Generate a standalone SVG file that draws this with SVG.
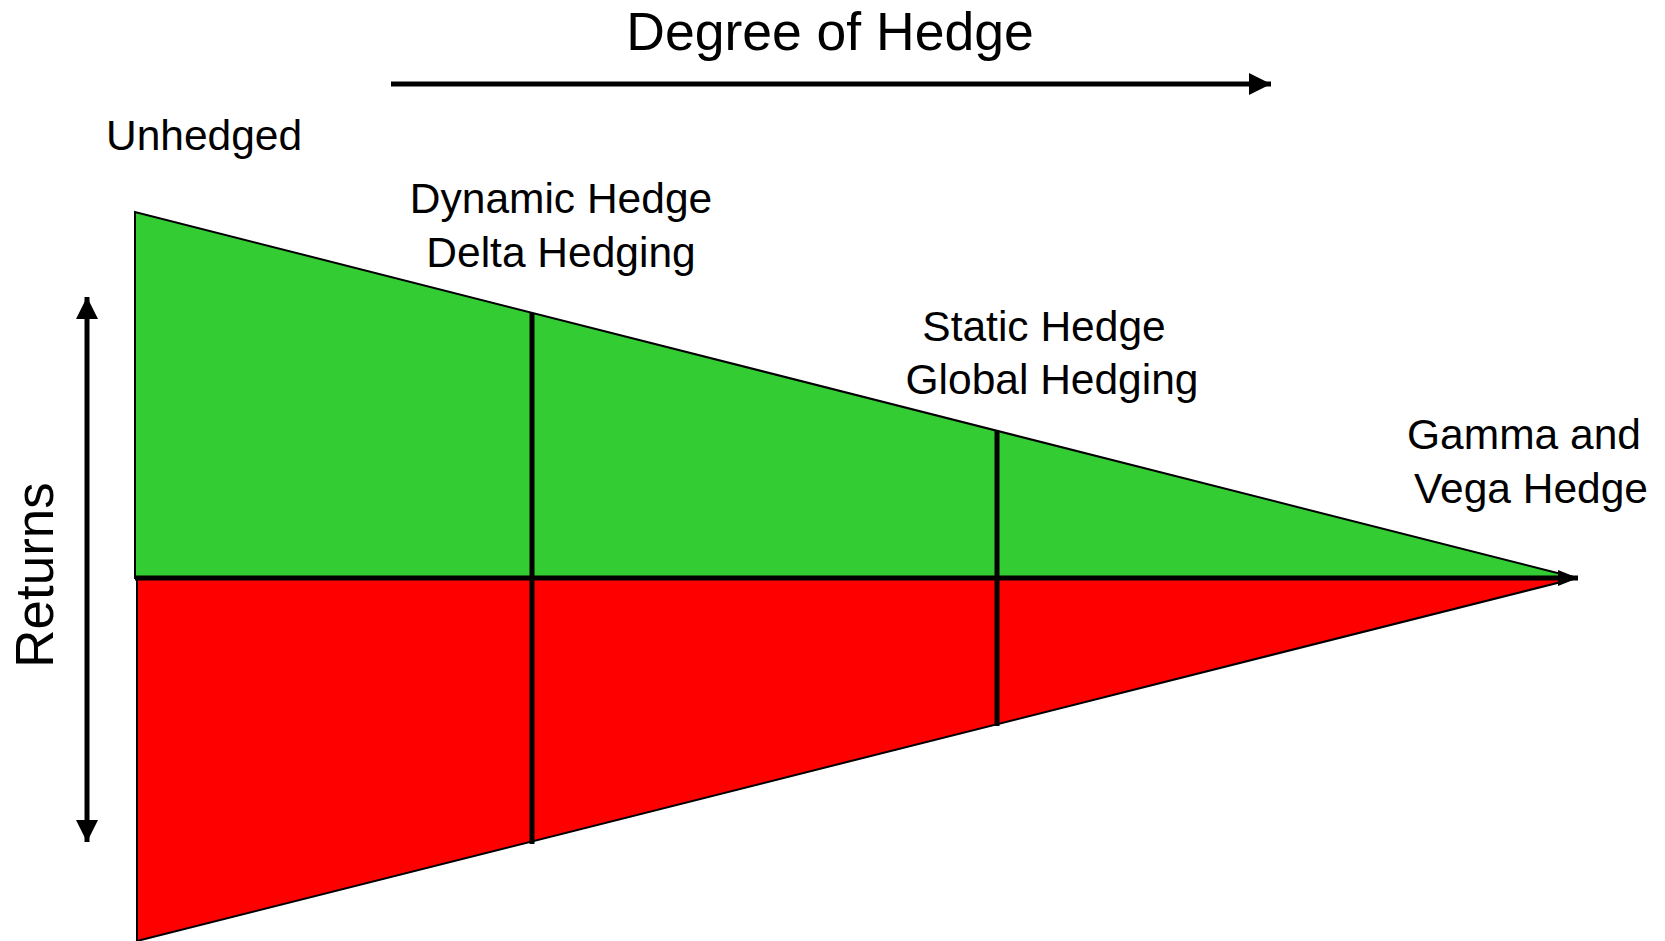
<svg xmlns="http://www.w3.org/2000/svg" width="1665" height="941" viewBox="0 0 1665 941">
<style>
.lbl{font-family:"Liberation Sans",Arial,sans-serif;fill:#000}
.ln{stroke:#000;stroke-width:5;fill:none}
.tri{stroke:#000;stroke-width:2}
</style>
<defs>
<marker id="ah" markerUnits="userSpaceOnUse" markerWidth="22" markerHeight="22" viewBox="0 0 20 20" refX="20" refY="10" orient="auto-start-reverse">
<polygon points="0,0 20,10 0,20" fill="#000"/>
</marker>
<marker id="ah2" markerUnits="userSpaceOnUse" markerWidth="20" markerHeight="18" viewBox="0 0 20 18" refX="20" refY="9" orient="auto">
<polygon points="0,1 20,9 0,17" fill="#000"/>
</marker>
</defs>
<rect width="1665" height="941" fill="#fff"/>
<g id="wedge">
<polygon id="green" class="tri" points="135,212 135,578 1577,578" fill="#33CC33"/>
<polygon id="red" class="tri" points="137,578 137,941 1577,578" fill="#FF0000"/>
</g>
<g id="connectors">
<line class="ln" x1="135" y1="578" x2="1578" y2="578" marker-end="url(#ah2)"/>
<line class="ln" x1="532" y1="313" x2="532" y2="844"/>
<line class="ln" x1="997" y1="431" x2="997" y2="726"/>
<line class="ln" x1="391" y1="84" x2="1271" y2="84" marker-end="url(#ah)"/>
<line class="ln" x1="87" y1="297" x2="87" y2="842" marker-start="url(#ah)" marker-end="url(#ah)"/>
</g>
<g id="title"><text class="lbl" x="830" y="50" font-size="53.5" text-anchor="middle">Degree of Hedge</text></g>
<g id="unhedged"><text class="lbl" x="106" y="150" font-size="42.5">Unhedged</text></g>
<g id="dynamic"><text class="lbl" x="561" y="213" font-size="42.5" text-anchor="middle">Dynamic Hedge</text><text class="lbl" x="561" y="267" font-size="42.5" text-anchor="middle">Delta Hedging</text></g>
<g id="static"><text class="lbl" x="1044" y="341" font-size="42.5" text-anchor="middle">Static Hedge</text><text class="lbl" x="1052" y="394" font-size="42.5" text-anchor="middle">Global Hedging</text></g>
<g id="gamma"><text class="lbl" x="1524" y="449" font-size="42.5" text-anchor="middle">Gamma and</text><text class="lbl" x="1531" y="503" font-size="42.5" text-anchor="middle">Vega Hedge</text></g>
<g id="returns"><text class="lbl" transform="translate(53,575) rotate(-90)" font-size="53" text-anchor="middle">Returns</text></g>
</svg>
